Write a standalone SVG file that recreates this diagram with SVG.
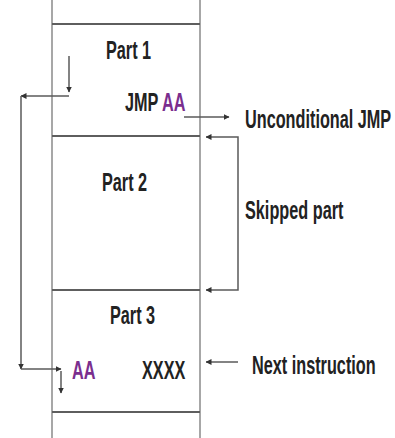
<svg xmlns="http://www.w3.org/2000/svg" width="395" height="438" viewBox="0 0 395 438">
  <defs>
    <marker id="arrow" viewBox="0 0 6 6" refX="5.5" refY="3" markerWidth="6" markerHeight="6" markerUnits="userSpaceOnUse" orient="auto-start-reverse">
      <path d="M0,0 L6,3 L0,6 z" fill="#333"/>
    </marker>
    <style>
      .wall { stroke: #8a8a8a; stroke-width: 1.5; fill: none; }
      .sep { stroke: #5e5e5e; stroke-width: 2; fill: none; }
      .conn { stroke: #5a5a5a; stroke-width: 1.5; fill: none; }
      .arr { marker-end: url(#arrow); }
      text { font-family: "Liberation Sans", Arial, sans-serif; font-weight: bold; font-size: 25px; fill: #222; }
      .addr { fill: #7a2e8e; }
    </style>
  </defs>

  <!-- memory column -->
  <g id="memory">
    <line class="wall" x1="52" y1="0" x2="52" y2="438"/>
    <line class="wall" x1="200" y1="0" x2="200" y2="438"/>
    <line class="sep" x1="52" y1="24" x2="200" y2="24"/>
    <line class="sep" x1="52" y1="136" x2="200" y2="136"/>
    <line class="sep" x1="52" y1="290" x2="200" y2="290"/>
    <line class="sep" x1="52" y1="412" x2="200" y2="412"/>
  </g>

  <!-- condensed lettering: every label is squeezed horizontally to 65% -->
  <g id="part1">
    <text transform="translate(106,59) scale(0.65,1)">Part 1</text>
    <text transform="translate(125,111) scale(0.65,1)">JMP</text>
    <text class="addr" transform="translate(162,111) scale(0.65,1)">AA</text>
  </g>

  <g id="part2">
    <text transform="translate(102,191) scale(0.65,1)">Part 2</text>
  </g>

  <g id="part3">
    <text transform="translate(110,324) scale(0.65,1)">Part 3</text>
    <text class="addr" transform="translate(72,379) scale(0.65,1)">AA</text>
    <text transform="translate(142,379) scale(0.65,1)">XXXX</text>
  </g>

  <g id="labels">
    <text transform="translate(245,128) scale(0.65,1)">Unconditional JMP</text>
    <text transform="translate(245,219) scale(0.65,1)">Skipped part</text>
    <text transform="translate(252,374) scale(0.65,1)">Next instruction</text>
  </g>

  <g id="connectors">
    <!-- jump out -->
    <line class="conn arr" x1="184" y1="117" x2="229" y2="117"/>
    <!-- skipped range bracket -->
    <path class="conn" d="M206,137 H238 V290 H206" marker-start="url(#arrow)" marker-end="url(#arrow)"/>
    <!-- next instruction pointer -->
    <line class="conn arr" x1="238" y1="362" x2="206" y2="362"/>
    <!-- jump path to AA -->
    <line class="conn arr" x1="69" y1="56" x2="69" y2="92"/>
    <line class="conn arr" x1="69" y1="96" x2="21" y2="96"/>
    <line class="conn arr" x1="21" y1="96" x2="21" y2="369"/>
    <line class="conn arr" x1="21" y1="369" x2="61" y2="369"/>
    <line class="conn arr" x1="61" y1="371" x2="61" y2="393"/>
  </g>
</svg>
